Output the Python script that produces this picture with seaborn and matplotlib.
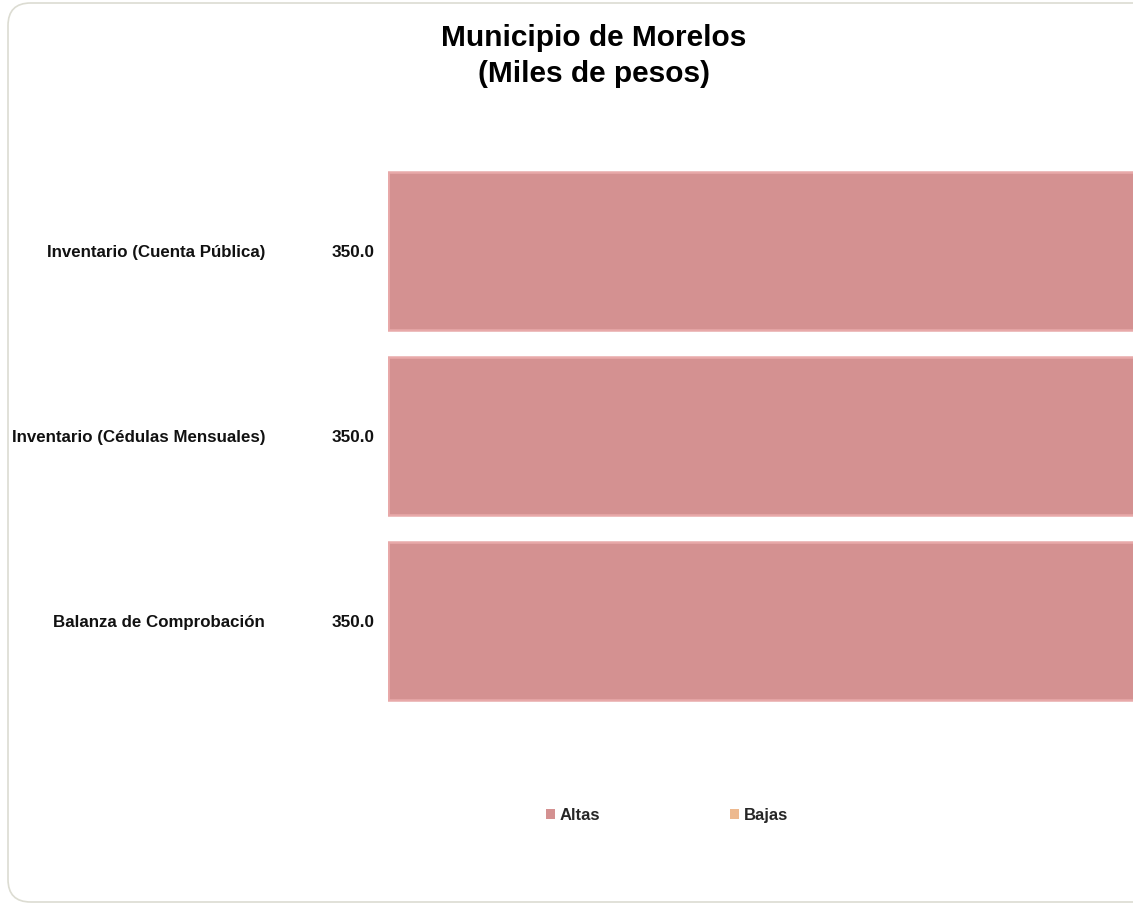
import matplotlib
matplotlib.use("Agg")
import matplotlib.pyplot as plt
import seaborn as sns
import pandas as pd
from matplotlib.patches import FancyBboxPatch, Patch
from matplotlib.transforms import blended_transform_factory

categorias = ["Inventario (Cuenta Pública)", "Inventario (Cédulas Mensuales)", "Balanza de Comprobación"]
altas = [350.0, 350.0, 350.0]
bajas = [0.0, 0.0, 0.0]
series = ["Altas", "Bajas"]
colores = ["#D49191", "#EDB98F"]

df = pd.DataFrame({
    "categoria": categorias * 2,
    "valor": altas + bajas,
    "serie": ["Altas"] * 3 + ["Bajas"] * 3,
})

sns.set_theme(style="white")
plt.rcParams["font.family"] = ["Liberation Sans", "DejaVu Sans"]

fig = plt.figure(figsize=(11.33, 9.05), dpi=100)
fig.patch.set_facecolor("white")

border = FancyBboxPatch((8 / 1133, 3 / 905), 1.2, 899 / 905, boxstyle="round,pad=0,rounding_size=0.02",
                        transform=fig.transFigure, facecolor="none", edgecolor="#DCDCD2", linewidth=1.2,
                        mutation_aspect=1133 / 905, zorder=-1)
fig.patches.append(border)

ax = fig.add_axes([388 / 1133, 1 - 713.5 / 905, 1 - 388 / 1133 + 0.01, 555 / 905])
ax.set_facecolor("none")
sns.barplot(data=df, x="valor", y="categoria", hue="serie", dodge=False, palette=colores,
            saturation=1, width=158 / 185, edgecolor="#E8A9A9", linewidth=1.8, ax=ax, legend=False)

ax.set_xlim(0, 345)
ax.set_ylim(2.5, -0.5)
ax.set_xlabel("")
ax.set_ylabel("")
ax.set_xticks([])
for s in ax.spines.values():
    s.set_visible(False)
ax.tick_params(axis="y", length=0, pad=123 * 0.72)
ax.set_yticks(range(len(categorias)))
ax.set_yticklabels(categorias, fontsize=12.2, fontweight="bold", color="#111111")

trans = blended_transform_factory(ax.transAxes, ax.transData)
for i, v in enumerate(altas):
    ax.text(-13 / 745, i + 0.01, f"{v:.1f}", transform=trans, ha="right", va="center",
            fontsize=12.3, fontweight="bold", color="#111111")

fig.text(594 / 1133, 1 - 56 / 905, "Municipio de Morelos\n(Miles de pesos)", ha="center", va="center",
         fontsize=21.5, fontweight="bold", color="black", linespacing=1.38)

handles = [Patch(facecolor=c, edgecolor="none") for c in colores]
fig.legend(handles, series, loc="center", bbox_to_anchor=(667 / 1133, 1 - 815 / 905), ncol=2,
           frameon=False, handlelength=0.55, handleheight=0.55, handletextpad=0.25, columnspacing=7.8,
           prop={"weight": "bold", "size": 12})

fig.savefig("out.png", dpi=100)
